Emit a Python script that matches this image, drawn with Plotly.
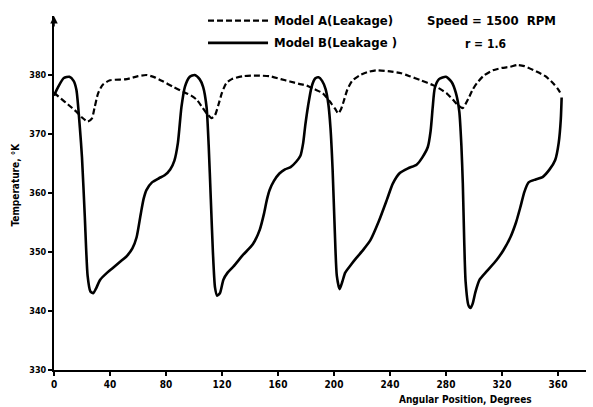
import plotly.graph_objects as go

# Model B (Leakage) - solid
b_x = [0, 3, 7, 11, 14, 16, 18.5, 20, 22, 24, 26, 28, 30, 33, 38, 42, 47, 52, 56, 59, 62, 64, 66, 70, 75, 79, 83, 86,
       88.5, 91, 93.5, 97, 100.5, 104, 106.5, 109, 110.5, 112, 113.5, 115, 116.5, 118.5, 121, 124, 128, 135, 142, 147,
       150, 152, 154, 157, 161, 165, 169, 173, 176, 178, 179.5, 181.5, 184, 186.5, 189, 191.5, 194, 196, 197.5, 199,
       200.5, 202, 204, 206, 208, 212, 216, 221, 226, 232, 238, 242, 247, 253, 259, 263, 267, 269, 270.5, 272, 275,
       280, 284, 287, 289.5, 291, 292, 293, 294, 296, 297.5, 299, 301, 304, 309, 316, 321, 326, 330, 333, 336, 339,
       344, 349, 354, 358, 360.5, 362, 362.6]
b_t = [376.5, 378.0, 379.5, 379.7, 379.0, 377.5, 371, 366, 356, 346, 343.3, 343.0, 343.8, 345.3, 346.5, 347.3, 348.3,
       349.3, 350.6, 352.5, 356.5, 359, 360.5, 361.8, 362.5, 363, 364, 365.5, 368.5, 374.5, 378, 379.7, 380, 379.3,
       378, 374.5, 368, 359, 350, 344, 342.6, 343, 345.3, 346.5, 347.5, 349.5, 351.3, 353.8, 356.5, 358.8, 360.5, 362,
       363.3, 364, 364.4, 365.3, 366.3, 368.5, 371.5, 374.8, 378, 379.4, 379.6, 379, 377.6, 375, 371, 364, 354, 346,
       343.7, 345, 346.5, 347.8, 349, 350.4, 352, 355.2, 359, 361.6, 363.4, 364.2, 364.8, 366, 367.8, 370.5, 374.5,
       377.8, 379.3, 379.7, 378.8, 377, 373.8, 368, 361.7, 352, 345, 341, 340.5, 341.2, 343.2, 345.3, 346.7, 348.6,
       350.3, 352.5, 355, 357.5, 360.2, 361.8, 362.3, 362.7, 364, 365.6, 368.5, 372.5, 376.2]

# Model A (Leakage) - dashed
a_x = [0, 5, 10, 16, 20, 24, 27, 29, 31.5, 35, 40, 52, 60, 66, 72, 78, 85, 92, 98, 102, 106, 109, 112.5, 115, 117.5,
       120, 123, 127, 135, 145, 154, 162, 168.5, 175, 180.5, 186, 192, 198, 201, 203, 205, 207, 209.5, 213, 218, 224,
       230, 240, 248, 254, 262, 270.5, 276, 280.5, 285, 288.5, 292, 294, 296, 299, 302, 307, 313.5, 320, 326, 331, 336,
       344.5, 351, 356.5, 360, 362.6]
a_t = [377, 376, 375, 373.8, 372.8, 372.1, 372.6, 374.5, 376.9, 378.4, 379.1, 379.3, 379.8, 380, 379.6, 378.9, 378,
       377.2, 376.5, 375.8, 374.5, 373.5, 372.7, 373.2, 375, 377, 378.6, 379.3, 379.8, 379.9, 379.8, 379.3, 378.9,
       378.5, 378.2, 377.6, 376.9, 375.2, 374.2, 373.5, 374.2, 375.6, 377.5, 379, 379.9, 380.5, 380.8, 380.6, 380.3,
       379.8, 379.1, 378.3, 377.6, 376.9, 375.8, 374.9, 374.4, 375.1, 376, 377.5, 378.6, 379.9, 380.8, 381.2, 381.4,
       381.7, 381.5, 380.6, 379.8, 378.6, 377.6, 376.6]

x_ticks = [0, 40, 80, 120, 160, 200, 240, 280, 320, 360]
y_ticks = [330, 340, 350, 360, 370, 380]

series_names = ["Model A(Leakage)", "Model B(Leakage )"]

FONT = "DejaVu Sans Condensed, Liberation Sans Narrow, Arial Narrow, DejaVu Sans, sans-serif"

DASH_A = dict(color="black", width=2.2, dash="6px,3px")
SOLID_B = dict(color="black", width=2.6)

fig = go.Figure()
fig.add_trace(go.Scatter(x=a_x, y=a_t, mode="lines", name=series_names[0],
                         line=dict(**DASH_A, shape="spline", smoothing=0.6)))
fig.add_trace(go.Scatter(x=b_x, y=b_t, mode="lines", name=series_names[1],
                         line=dict(**SOLID_B, shape="spline", smoothing=0.6)))

# legend drawn as key lines + labels (paper coordinates)
legend_rows = [(0.987, DASH_A, series_names[0]), (0.924, SOLID_B, series_names[1])]
shapes = []
annotations = []
for yy, style, label in legend_rows:
    shapes.append(dict(type="line", xref="paper", yref="paper", x0=0.2895, x1=0.4023, y0=yy, y1=yy,
                       line=style))
    annotations.append(dict(text=f"<b>{label}</b>", x=0.4098, xref="paper", y=yy, yref="paper",
                            showarrow=False, xanchor="left", yanchor="middle",
                            font=dict(size=13, family=FONT)))

annotations += [
    dict(text="<b>Temperature, °K</b>", textangle=-90, x=-0.072, xref="paper", y=361.4, yref="y",
         showarrow=False, font=dict(size=10, family=FONT), xanchor="center"),
    dict(text="<b>Angular Position, Degrees</b>", x=294, xref="x", y=-0.082, yref="paper",
         showarrow=False, font=dict(size=10, family=FONT), yanchor="middle"),
    dict(text="<b>Speed = 1500  RPM</b>", x=0.697, xref="paper", y=0.986, yref="paper",
         showarrow=False, font=dict(size=13, family=FONT), xanchor="left", yanchor="middle"),
    dict(text="<b>r = 1.6</b>", x=0.769, xref="paper", y=0.921, yref="paper",
         showarrow=False, font=dict(size=12, family=FONT), xanchor="left", yanchor="middle"),
    dict(x=0, y=390, xref="x", yref="y", text="", showarrow=True, ax=0, ay=12,
         arrowhead=2, arrowsize=1, arrowwidth=1.5, arrowcolor="black"),
]

fig.update_layout(
    width=593, height=407,
    margin=dict(l=54, r=7, t=16, b=37),
    paper_bgcolor="white", plot_bgcolor="white",
    font=dict(family=FONT, color="black", size=11),
    showlegend=False,
    xaxis=dict(range=[0, 380], tickvals=x_ticks, ticktext=[f"<b>{v}</b>" for v in x_ticks],
               showgrid=False, zeroline=False, showline=True, linecolor="black", linewidth=2,
               ticks="outside", ticklen=4, tickwidth=1.5, tickcolor="black",
               tickfont=dict(size=10, family=FONT)),
    yaxis=dict(range=[330, 390], tickvals=y_ticks, ticktext=[f"<b>{v}</b>" for v in y_ticks],
               showgrid=False, zeroline=False, showline=True, linecolor="black", linewidth=2,
               ticks="outside", ticklen=4, tickwidth=1.5, tickcolor="black",
               tickfont=dict(size=9, family=FONT)),
    shapes=shapes,
    annotations=annotations,
)

fig.write_html("out.html")
